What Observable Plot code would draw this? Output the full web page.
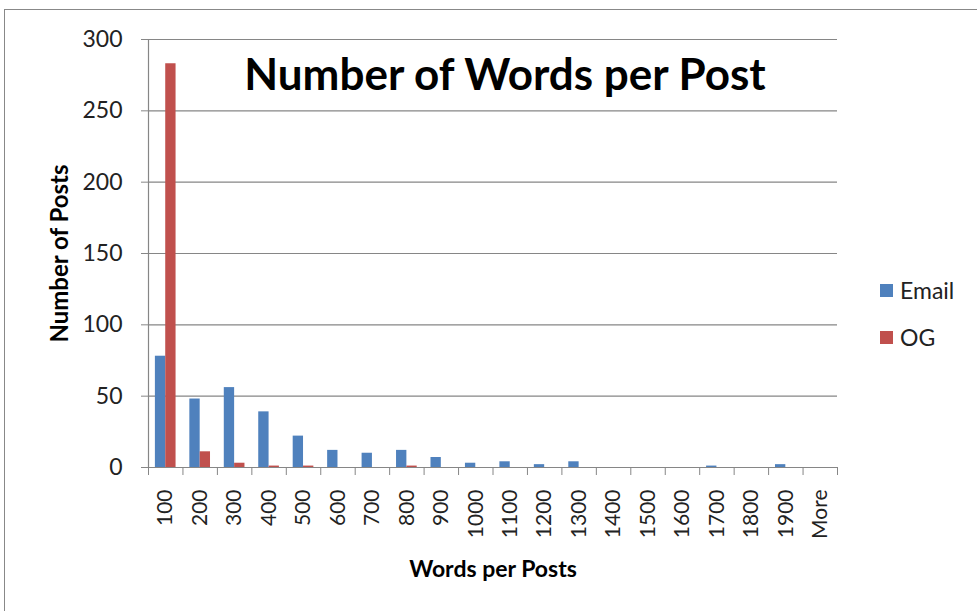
<!DOCTYPE html>
<html>
<head>
<meta charset="utf-8">
<script src="https://cdn.jsdelivr.net/npm/d3@7"></script>
<script src="https://cdn.jsdelivr.net/npm/@observablehq/plot@0.6"></script>
<style>
  html, body { margin: 0; padding: 0; background: #fff; }
  #wrap { position: relative; width: 977px; height: 611px; overflow: hidden; font-family: Lato, "Open Sans", sans-serif; }
  #frame { position: absolute; left: 4px; top: 9px; width: 1000px; height: 700px; border-left: 1.5px solid #888; border-top: 1.5px solid #888; box-sizing: border-box; }
  #chart { position: absolute; left: 0; top: 0; }
  .legend { position: absolute; left: 880px; font-size: 23px; color: #222; display: flex; align-items: center; }
  .legend span.sw { display: inline-block; width: 13px; height: 13px; margin-right: 7px; }
</style>
</head>
<body>
<div id="wrap">
  <div id="frame"></div>
  <div id="chart"></div>
  <div class="legend" style="top:276px"><span class="sw" style="background:#4F81BD"></span>Email</div>
  <div class="legend" style="top:323px"><span class="sw" style="background:#C0504D"></span>OG</div>
</div>
<script>
const categories = ["100","200","300","400","500","600","700","800","900","1000","1100","1200","1300","1400","1500","1600","1700","1800","1900","More"];
const email = [78, 48, 56, 39, 22, 12, 10, 12, 7, 3, 4, 2, 4, 0, 0, 0, 1, 0, 2, 0];
const og    = [283, 11, 3, 1, 1, 0, 0, 1, 0, 0, 0, 0, 0, 0, 0, 0, 0, 0, 0, 0];
const yTicks = [0, 50, 100, 150, 200, 250, 300];

const rows = categories.map((c, i) => ({i, c, email: email[i], og: og[i]}));

const chart = Plot.plot({
  width: 977,
  height: 611,
  marginLeft: 148,
  marginRight: 140,
  marginTop: 39,
  marginBottom: 144,
  style: {fontFamily: "Lato, 'Open Sans', sans-serif", background: "transparent", color: "#222"},
  x: {domain: [0, categories.length]},
  y: {domain: [0, 300]},
  marks: [
    Plot.gridY(yTicks, {stroke: "#868686", strokeOpacity: 1, strokeWidth: 1.2}),
    Plot.rectY(rows, {x1: d => d.i + 0.2, x2: d => d.i + 0.5, y: "email", fill: "#4F81BD"}),
    Plot.rectY(rows, {x1: d => d.i + 0.5, x2: d => d.i + 0.8, y: "og", fill: "#C0504D"}),
    Plot.axisY({ticks: yTicks, tickSize: 7, tickPadding: 19, fontSize: 23, stroke: "#868686", label: null}),
    Plot.ruleX([0], {stroke: "#868686", strokeWidth: 1.2}),
    Plot.ruleY([0], {stroke: "#868686", strokeWidth: 1.2}),
    Plot.axisX({ticks: d3.range(0, categories.length + 1), tickSize: 8, tickFormat: () => "", stroke: "#868686", label: null}),
    Plot.axisX({ticks: categories.map((c, i) => i + 0.5), tickSize: 0, tickPadding: 22, tickRotate: -90, fontSize: 21,
      tickFormat: v => categories[Math.floor(v)], label: null}),
    Plot.text(["Number of Words per Post"], {frameAnchor: "top", dx: 12, dy: 19, fontSize: 44, fontWeight: "bold", fill: "#000"}),
    Plot.text(["Number of Posts"], {frameAnchor: "left", textAnchor: "middle", dx: -88, dy: 0, rotate: -90, fontSize: 24, fontWeight: "bold", fill: "#000"}),
    Plot.text(["Words per Posts"], {frameAnchor: "bottom", dy: 109, fontSize: 23, fontWeight: "bold", fill: "#000"})
  ]
});
document.getElementById("chart").appendChild(chart);
</script>
</body>
</html>
